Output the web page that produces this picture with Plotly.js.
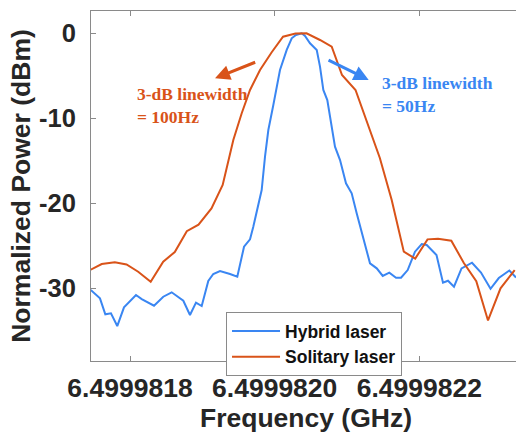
<!DOCTYPE html>
<html>
<head>
<meta charset="utf-8">
<script src="https://cdn.plot.ly/plotly-3.0.1.min.js"></script>
<style>
html,body{margin:0;padding:0;overflow:hidden;background:#fff;}
#chart{width:522px;height:434px;}
</style>
</head>
<body>
<div id="chart"></div>
<script>
// Frequency in GHz, power in dBm (normalized)
const hybridFreq = [
  6.4999817457, 6.4999817585, 6.4999817659, 6.4999817737, 6.4999817824, 6.4999817917,
  6.4999818083, 6.4999818162, 6.4999818332, 6.4999818460, 6.4999818576, 6.4999818737,
  6.4999818829, 6.4999818912, 6.4999818991, 6.4999819082, 6.4999819151, 6.4999819244,
  6.4999819382, 6.4999819483, 6.4999819576, 6.4999819659, 6.4999819704, 6.4999819742,
  6.4999819820, 6.4999819866, 6.4999819912, 6.4999819981, 6.4999820073, 6.4999820166,
  6.4999820235, 6.4999820294, 6.4999820373, 6.4999820419, 6.4999820488, 6.4999820581,
  6.4999820626, 6.4999820672, 6.4999820727, 6.4999820833, 6.4999820903, 6.4999820985,
  6.4999821064, 6.4999821133, 6.4999821317, 6.4999821410, 6.4999821493, 6.4999821584,
  6.4999821677, 6.4999821746, 6.4999821838, 6.4999821939, 6.4999822032, 6.4999822101,
  6.4999822236, 6.4999822326, 6.4999822395, 6.4999822478, 6.4999822582, 6.4999822727,
  6.4999822851, 6.4999822983, 6.4999823097, 6.4999823243, 6.4999823335
];
const hybridPower = [
  -30.20, -31.18, -33.06, -32.94, -34.44, -32.24,
  -30.79, -31.26, -32.05, -30.99, -30.47, -31.46,
  -33.14, -31.69, -32.08, -29.14, -28.32, -27.96,
  -28.32, -28.64, -25.11, -24.24, -22.75, -21.38,
  -18.44, -14.52, -11.38, -8.44, -4.32, -1.96,
  -0.59, -0.20, 0.00, -0.32, -1.18, -1.96,
  -3.93, -6.67, -7.85, -13.34, -14.91, -17.65,
  -18.82, -21.18, -27.06, -27.65, -28.55, -28.16,
  -28.75, -28.75, -27.85, -25.69, -24.79, -24.91,
  -26.08, -29.34, -29.11, -29.81, -27.65, -26.99,
  -28.14, -30.05, -28.79, -27.91, -28.73
];
const solitaryFreq = [
  6.4999817457, 6.4999817609, 6.4999817790, 6.4999817952, 6.4999818113, 6.4999818286,
  6.4999818459, 6.4999818619, 6.4999818785, 6.4999818947, 6.4999819126, 6.4999819281,
  6.4999819428, 6.4999819544, 6.4999819659, 6.4999819797, 6.4999819956, 6.4999820115,
  6.4999820287, 6.4999820440, 6.4999820626, 6.4999820788, 6.4999820930, 6.4999821117,
  6.4999821453, 6.4999821617, 6.4999821784, 6.4999821942, 6.4999822112, 6.4999822257,
  6.4999822441, 6.4999822614, 6.4999822786, 6.4999822948, 6.4999823121, 6.4999823317
];
const solitaryPower = [
  -27.81, -27.14, -26.94, -27.20, -28.05, -29.22,
  -26.87, -25.73, -23.28, -22.52, -20.61, -17.85,
  -12.55, -9.41, -6.67, -4.32, -2.26, -0.40,
  -0.02, 0.00, -0.79, -1.58, -4.91, -6.67,
  -14.67, -19.61, -25.69, -26.51, -24.24, -24.16,
  -24.40, -27.02, -29.16, -33.78, -30.00, -27.85
];
const seriesNames = ['Hybrid laser', 'Solitary laser'];
const xTickVals = [6.4999818, 6.4999820, 6.4999822];
const xTickText = ['6.4999818', '6.4999820', '6.4999822'];
const yTickVals = [0, -10, -20, -30];
const yTickText = ['0', '-10', '-20', '-30'];

const BLUE = '#3A86F2';
const ORANGE = '#D95319';
const AXIS = '#8a8a8a';
const TXT = '#262626';
const SANS = 'Liberation Sans, Arial, sans-serif';
const SERIF = 'Liberation Serif, Times New Roman, serif';

const traces = [
  {x: hybridFreq, y: hybridPower, name: seriesNames[0], type: 'scatter', mode: 'lines',
   line: {color: BLUE, width: 2}},
  {x: solitaryFreq, y: solitaryPower, name: seriesNames[1], type: 'scatter', mode: 'lines',
   line: {color: ORANGE, width: 2}}
];

const layout = {
  width: 522, height: 434,
  margin: {l: 91, r: 1, t: 11, b: 73},
  paper_bgcolor: '#fff', plot_bgcolor: '#fff',
  showlegend: true,
  legend: {
    x: 0.314, y: 0.14, xanchor: 'left', yanchor: 'top',
    bgcolor: '#fff', bordercolor: AXIS, borderwidth: 1,
    font: {family: SANS, size: 17.5, color: '#111', weight: 'bold'},
    itemwidth: 48, tracegroupgap: 0
  },
  xaxis: {
    range: [6.4999817461, 6.4999823404],
    tickvals: xTickVals, ticktext: xTickText,
    ticks: 'inside', ticklen: 5, tickcolor: AXIS, tickwidth: 1,
    showline: true, linecolor: AXIS, linewidth: 1, mirror: 'ticks',
    showgrid: false, zeroline: false,
    tickfont: {family: SANS, size: 26.5, color: TXT, weight: 'bold'},
    ticklabelstandoff: 3,
    title: {text: 'Frequency (GHz)', font: {family: SANS, size: 26.5, color: TXT, weight: 'bold'}, standoff: 4}
  },
  yaxis: {
    range: [-38.55, 2.62],
    tickvals: yTickVals, ticktext: yTickText,
    ticks: 'inside', ticklen: 5, tickcolor: AXIS, tickwidth: 1,
    showline: true, linecolor: AXIS, linewidth: 1, mirror: 'ticks',
    showgrid: false, zeroline: false,
    tickfont: {family: SANS, size: 25.5, color: TXT, weight: 'bold'},
    ticklabelstandoff: 9,
    title: {text: 'Normalized Power (dBm)', font: {family: SANS, size: 26.5, color: TXT, weight: 'bold'}, standoff: 0}
  },
  annotations: [
    {xref: 'x', yref: 'y', x: 6.4999818069, y: -8.55, xanchor: 'left', yanchor: 'middle', align: 'left',
     text: '3-dB linewidth<br>= 100Hz', showarrow: false,
     font: {family: SERIF, size: 17.5, color: ORANGE, weight: 'bold'}},
    {xref: 'x', yref: 'y', x: 6.4999821455, y: -7.26, xanchor: 'left', yanchor: 'middle', align: 'left',
     text: '3-dB linewidth<br>= 50Hz', showarrow: false,
     font: {family: SERIF, size: 17.5, color: BLUE, weight: 'bold'}},
    {xref: 'x', yref: 'y', axref: 'x', ayref: 'y', x: 6.4999819175, y: -5.29, ax: 6.4999819751, ay: -3.34,
     text: '', showarrow: true, arrowhead: 2, arrowsize: 1, arrowwidth: 3, arrowcolor: ORANGE, standoff: 0},
    {xref: 'x', yref: 'y', axref: 'x', ayref: 'y', x: 6.4999821299, y: -5.49, ax: 6.4999820723, ay: -3.06,
     text: '', showarrow: true, arrowhead: 2, arrowsize: 1, arrowwidth: 3, arrowcolor: BLUE, standoff: 0}
  ]
};

Plotly.newPlot('chart', traces, layout, {displayModeBar: false, staticPlot: true});
</script>
</body>
</html>
